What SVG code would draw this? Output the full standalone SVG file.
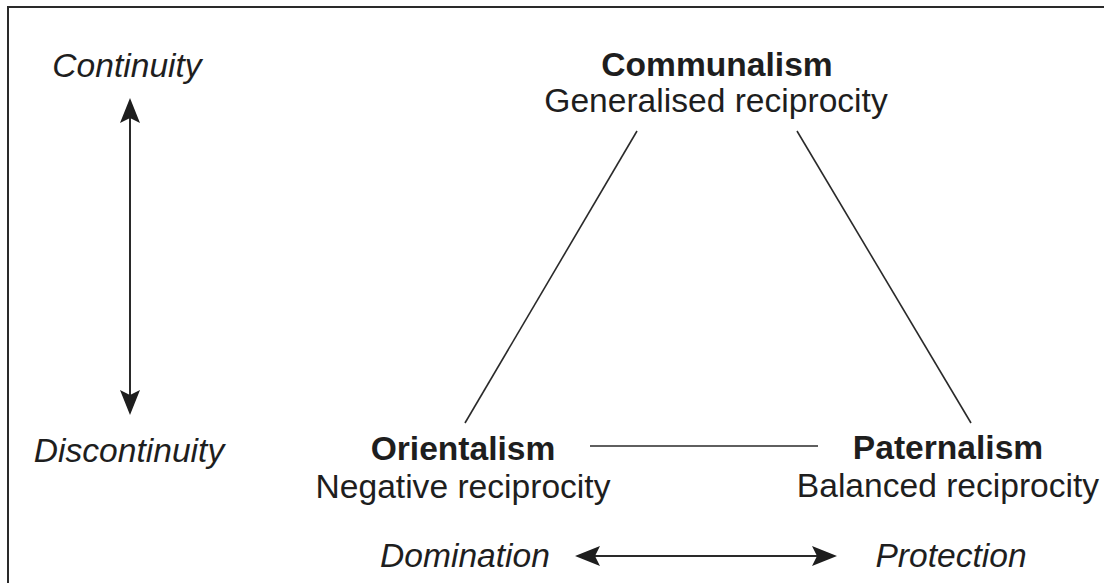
<svg xmlns="http://www.w3.org/2000/svg" width="1104" height="583" viewBox="0 0 1104 583">
  <style>
    text { font-family: "Liberation Sans", Arial, sans-serif; font-size: 33.6px; fill: #1e1e1e; text-anchor: middle; }
    .b { font-weight: bold; }
    .i { font-style: italic; }
    .edge { stroke: #2a2a2a; stroke-width: 1.6; fill: none; }
    .arrow { stroke: #2a2a2a; stroke-width: 2; fill: none; }
    .frame { stroke: #2a2a2a; stroke-width: 2; fill: none; }
  </style>
  <defs>
    <marker id="head" viewBox="0 0 25 20" refX="5" refY="10" markerWidth="25" markerHeight="20" markerUnits="userSpaceOnUse" orient="auto-start-reverse">
      <path d="M0,0 L25,10 L0,20 L5,10 Z" fill="#1e1e1e"/>
    </marker>
  </defs>
  <rect width="1104" height="583" fill="#ffffff"/>
  <path class="frame" d="M8,583 L8,7 L1104,7"/>

  <g id="connectors">
    <line class="edge" x1="637" y1="131" x2="465" y2="423"/>
    <line class="edge" x1="797" y1="131" x2="971" y2="423"/>
    <line class="edge" x1="590" y1="446" x2="818" y2="446"/>
    <line class="arrow" x1="130" y1="118" x2="130" y2="395" marker-start="url(#head)" marker-end="url(#head)"/>
    <line class="arrow" x1="595" y1="556" x2="817" y2="556" marker-start="url(#head)" marker-end="url(#head)"/>
  </g>

  <g id="continuity"><text class="i" x="127" y="77">Continuity</text></g>
  <g id="discontinuity"><text class="i" x="129" y="462">Discontinuity</text></g>
  <g id="communalism">
    <text class="b" x="717" y="76">Communalism</text>
    <text x="716" y="112">Generalised reciprocity</text>
  </g>
  <g id="orientalism">
    <text class="b" x="463" y="460">Orientalism</text>
    <text x="463" y="498">Negative reciprocity</text>
  </g>
  <g id="paternalism">
    <text class="b" x="948" y="459">Paternalism</text>
    <text x="948" y="497">Balanced reciprocity</text>
  </g>
  <g id="domination"><text class="i" x="465" y="567">Domination</text></g>
  <g id="protection"><text class="i" x="951" y="567">Protection</text></g>
</svg>
